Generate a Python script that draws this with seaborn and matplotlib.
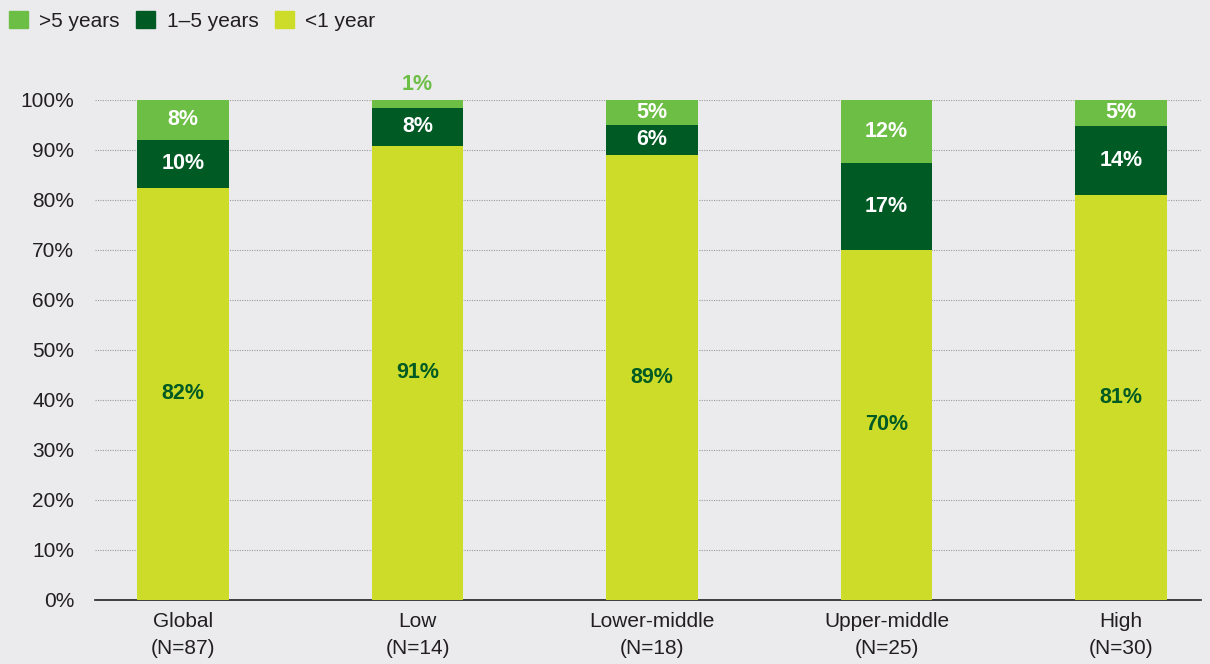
import numpy as np
import pandas as pd
import matplotlib.pyplot as plt
import seaborn as sns
from matplotlib.patches import Patch

# data
groups = ["Global\n(N=87)", "Low\n(N=14)", "Lower-middle\n(N=18)", "Upper-middle\n(N=25)", "High\n(N=30)"]
under_1 = [82.4, 90.8, 89.0, 70.0, 81.0]
one_to_5 = [9.6, 7.6, 6.0, 17.4, 13.8]
over_5 = [8.0, 1.6, 5.0, 12.6, 5.2]
lbl_under_1 = ["82%", "91%", "89%", "70%", "81%"]
lbl_one_to_5 = ["10%", "8%", "6%", "17%", "14%"]
lbl_over_5 = ["8%", "1%", "5%", "12%", "5%"]

c_over = "#6dbe45"
c_mid = "#005a24"
c_under = "#cddc28"
bg = "#ebebed"

df = pd.DataFrame({"group": groups, "under": under_1, "mid": one_to_5, "over": over_5})
df["cum_mid"] = df["under"] + df["mid"]
df["cum_over"] = df["cum_mid"] + df["over"]

sns.set_theme(style="white")
plt.rcParams["font.family"] = ["Liberation Sans", "DejaVu Sans"]

fig = plt.figure(figsize=(12.1, 6.64), dpi=100, facecolor=bg)
ax = fig.add_axes([0.0785, 0.0964, 0.914, 0.753])
ax.set_facecolor(bg)

# stacked bars by overlaying cumulative totals
for col, color in [("cum_over", c_over), ("cum_mid", c_mid), ("under", c_under)]:
    sns.barplot(data=df, x="group", y=col, color=color, width=0.39,
                saturation=1, linewidth=0, ax=ax, zorder=3)

ax.set_ylim(0, 100)
ax.set_xlim(-0.376, 4.34)
ax.set_yticks(np.arange(0, 101, 10))
ax.set_yticklabels([f"{v}%" for v in range(0, 101, 10)])
ax.tick_params(axis="both", labelsize=15, colors="#231f20", length=0)
ax.tick_params(axis="y", pad=15)
ax.tick_params(axis="x", pad=9)
for t in ax.get_xticklabels():
    t.set_linespacing(1.5)
ax.set_xlabel("")
ax.set_ylabel("")

for v in range(10, 101, 10):
    ax.axhline(v, color="#9a9a9a", linestyle=(0, (1, 1.2)), linewidth=0.8, zorder=1)
for s in ["top", "right", "left"]:
    ax.spines[s].set_visible(False)
ax.spines["bottom"].set_color("#231f20")
ax.spines["bottom"].set_linewidth(1.2)

# value labels
for i in range(len(groups)):
    u, m, o = under_1[i], one_to_5[i], over_5[i]
    ax.text(i, u / 2, lbl_under_1[i], ha="center", va="center", color=c_mid,
            fontsize=15.5, fontweight="bold", zorder=5)
    ax.text(i, u + m / 2, lbl_one_to_5[i], ha="center", va="center", color="white",
            fontsize=15.5, fontweight="bold", zorder=5)
    if o < 3:
        ax.text(i, u + m + o + 1.0, lbl_over_5[i], ha="center", va="bottom", color=c_over,
                fontsize=15.5, fontweight="bold", zorder=5)
    else:
        ax.text(i, u + m + o / 2, lbl_over_5[i], ha="center", va="center", color="white",
                fontsize=15.5, fontweight="bold", zorder=5)

handles = [Patch(color=c_over, label=">5 years"),
           Patch(color=c_mid, label="1\u20135 years"),
           Patch(color=c_under, label="<1 year")]
fig.legend(handles=handles, loc="upper left", bbox_to_anchor=(-0.008, 1.012), ncol=3,
           frameon=False, fontsize=15, handlelength=0.9, handleheight=0.9,
           handletextpad=0.55, columnspacing=0.8, labelcolor="#231f20")

plt.savefig("out.png", dpi=100, facecolor=bg)
plt.close()
